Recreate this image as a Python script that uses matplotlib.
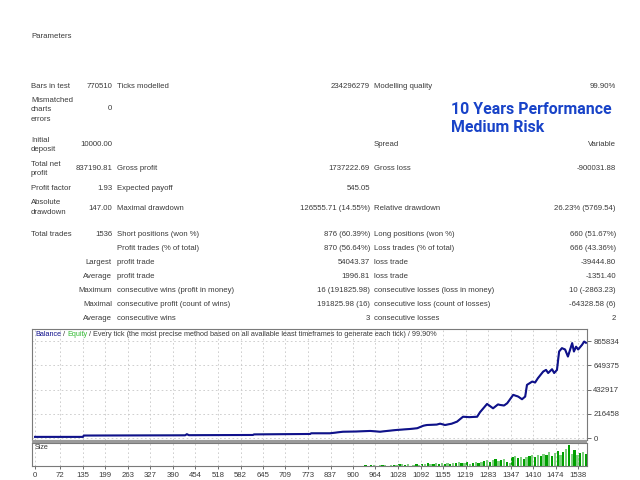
import numpy as np
import matplotlib
matplotlib.use("Agg")
import matplotlib.pyplot as plt
from matplotlib.patches import Rectangle

# report rows: (y pixel, label, value, label2, value2, label3, value3)
rows = [
    (86, "Bars in test", "770510", "Ticks modelled", "234296279", "Modelling quality", "99.90%"),
    (109, "", "0", "", "", "", ""),
    (145, "", "10000.00", "", "", "Spread", "Variable"),
    (169, "", "837190.81", "Gross profit", "1737222.69", "Gross loss", "-900031.88"),
    (188, "Profit factor", "1.93", "Expected payoff", "545.05", "", ""),
    (208, "", "147.00", "Maximal drawdown", "126555.71 (14.55%)", "Relative drawdown", "26.23% (5769.54)"),
    (235, "Total trades", "1536", "Short positions (won %)", "876 (60.39%)", "Long positions (won %)", "660 (51.67%)"),
    (248, "", "", "Profit trades (% of total)", "870 (56.64%)", "Loss trades (% of total)", "666 (43.36%)"),
    (262, "", "Largest", "profit trade", "54043.37", "loss trade", "-39444.80"),
    (276, "", "Average", "profit trade", "1996.81", "loss trade", "-1351.40"),
    (291, "", "Maximum", "consecutive wins (profit in money)", "16 (191825.98)",
     "consecutive losses (loss in money)", "10 (-2863.23)"),
    (305, "", "Maximal", "consecutive profit (count of wins)", "191825.98 (16)",
     "consecutive loss (count of losses)", "-64328.58 (6)"),
    (319, "", "Average", "consecutive wins", "3", "consecutive losses", "2"),
]
# labels that wrap over several lines: (first line y, lines)
wrapped = [
    (100, ["Mismatched", "charts", "errors"]),
    (140, ["Initial", "deposit"]),
    (164, ["Total net", "profit"]),
    (203, ["Absolute", "drawdown"]),
]

# balance curve (trade number, balance)
trade_no = [0, 136, 138, 425, 430, 436, 617, 620, 779, 782, 835, 872, 910, 949,
            977, 1000, 1025, 1060, 1082, 1100, 1110, 1138, 1147, 1161, 1180, 1195,
            1212, 1230, 1252, 1260, 1280, 1297, 1311, 1317, 1328, 1337, 1354, 1368,
            1379, 1388, 1393, 1408, 1416, 1424, 1439, 1447, 1453, 1464, 1470, 1478,
            1484, 1492, 1501, 1509, 1521, 1526, 1532, 1538, 1549, 1555, 1560]
balance = [10000, 10000, 22000, 24000, 34000, 25000, 27000, 32000, 36000, 42000,
           42000, 56000, 58000, 63000, 56000, 64000, 72000, 80000, 87000, 110000,
           116000, 120000, 128000, 116000, 128000, 146000, 190000, 186000, 190000,
           230000, 304000, 265000, 300000, 295000, 290000, 310000, 385000, 370000,
           346000, 370000, 474000, 504000, 495000, 534000, 593000, 608000, 580000,
           614000, 580000, 608000, 772000, 802000, 790000, 727000, 847000, 772000,
           815000, 790000, 832000, 861000, 850000]

x_ticks = [0, 72, 135, 199, 263, 327, 390, 454, 518, 582, 645, 709, 773, 837, 900,
           964, 1028, 1092, 1155, 1219, 1283, 1347, 1410, 1474, 1538]
y_ticks = [0, 216458, 432917, 649375, 865834]

# lot sizes of trades from 936 on, one bar every 8 trades
size_start = 936
sizes = [0.1, 0.05, 0.1, 0.1, 0.05, 0.1, 0.1, 0.1, 0.05, 0.1, 0.1, 0.1,
         0.2, 0.2, 0.1, 0.2, 0.05, 0.1, 0.2, 0.1, 0.2,
         0.2, 0.3, 0.2, 0.2, 0.3, 0.2, 0.3, 0.2, 0.3, 0.2,
         0.3, 0.3, 0.4, 0.3, 0.3, 0.4, 0.2, 0.3, 0.4, 0.3,
         0.4, 0.5, 0.6, 0.4, 0.6, 0.7, 0.5, 0.6, 0.7, 0.4, 0.3,
         0.9, 1.0, 0.8, 0.9, 0.7, 0.9, 1.0,
         1.1, 0.9, 1.2, 1.0, 1.3, 1.1,
         1.5, 1.0, 1.4, 1.6, 1.2, 1.5, 1.8,
         2.2, 1.3, 1.7, 1.2, 1.4, 1.5, 1.3]

W, H = 640, 480
fig = plt.figure(figsize=(6.4, 4.8), dpi=100)
fig.patch.set_facecolor("white")

txt = "#3a3a3a"
fs = 5.6
font = "Liberation Sans"


def put(x, y, s, ha="left", **kw):
    fig.text(x / W, 1 - y / H, s, ha=ha, va="center", fontsize=kw.pop("size", fs),
             family=kw.pop("family", font), color=kw.pop("color", txt), **kw)


put(31, 37, "Parameters")
for y, l1, v1, l2, v2, l3, v3 in rows:
    put(31, y, l1)
    put(112, y, v1, ha="right")
    put(117, y, l2)
    put(370, y, v2, ha="right")
    put(374, y, l3)
    put(616, y, v3, ha="right")
for y0, lines in wrapped:
    for i, line in enumerate(lines):
        put(31, y0 + i * 9.7, line)

put(451, 110, "10 Years Performance", size=11.4, weight="bold", color="#1843c8",
    family="Roboto")
put(451, 128, "Medium Risk", size=11.4, weight="bold", color="#1843c8",
    family="Roboto")

# chart panels
left, right = 32, 587
ax = fig.add_axes([left / W, 1 - 440 / H, (right - left) / W, (440 - 329) / H])
axs = fig.add_axes([left / W, 1 - 466 / H, (right - left) / W, (466 - 443) / H])
fig.add_artist(Rectangle((left / W, 1 - 443 / H), (right - left) / W, 3 / H,
                         transform=fig.transFigure, color="#9a9a9a", lw=0))

xlim = (-8.5, 1563)
ax.set_xlim(xlim)
ax.set_ylim(-17850, 972950)
ax.plot(trade_no, balance, color="#33cc33", lw=0.8)
ax.plot(trade_no, balance, color="#10108c", lw=1.5)
ax.set_xticks(x_ticks)
ax.set_yticks(y_ticks)
ax.grid(True, color="#c8c8c8", ls=(0, (2, 3)), lw=0.6)
ax.tick_params(axis="x", length=0, labelbottom=False)
ax.yaxis.tick_right()
ax.tick_params(axis="y", length=3, width=0.6, color="#555555", labelsize=fs,
               labelcolor=txt, pad=1.5)
for lab in ax.get_yticklabels():
    lab.set_family(font)
for s in ax.spines.values():
    s.set_color("#7a7a7a")
    s.set_linewidth(0.8)

# legend line at the top of the chart
renderer = fig.canvas.get_renderer()
parts = [("Balance", "#10108c"), (" / ", txt), ("Equity", "#33bb33"),
         (" / Every tick (the most precise method based on all available least "
          "timeframes to generate each tick) / 99.90%", txt)]
xp = 35
for s, c in parts:
    t = fig.text(xp / W, 1 - 335 / H, s, ha="left", va="center", fontsize=5.2,
                 family=font, color=c)
    xp += t.get_window_extent(renderer).width

# size panel
pos = size_start + 8 * np.arange(len(sizes))
cols = ["#00a000" if i % 2 == 0 else "#80d080" for i in range(len(sizes))]
axs.bar(pos, sizes, width=6.5, color=cols, lw=0)
axs.set_xlim(xlim)
axs.set_ylim(0, 2.4)
axs.set_xticks(x_ticks)
axs.set_yticks([])
axs.grid(True, axis="x", color="#c8c8c8", ls=(0, (2, 3)), lw=0.6)
axs.tick_params(axis="x", length=2, width=0.6, color="#555555", labelsize=fs,
                labelcolor=txt, pad=2)
for lab in axs.get_xticklabels():
    lab.set_family(font)
for s in axs.spines.values():
    s.set_color("#7a7a7a")
    s.set_linewidth(0.8)
axs.text(0.005, 0.82, "Size", transform=axs.transAxes, fontsize=5.2, family=font,
         color=txt, va="center")

fig.savefig("out.png", dpi=100)
